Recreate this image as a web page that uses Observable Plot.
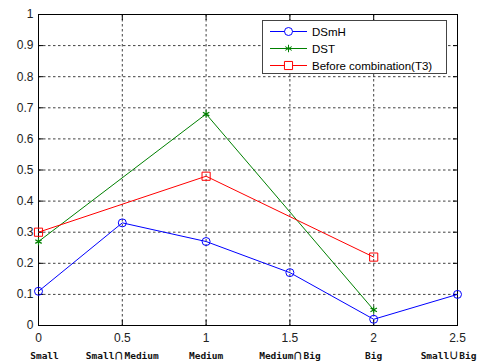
<!DOCTYPE html>
<html>
<head>
<meta charset="utf-8">
<script src="https://cdn.jsdelivr.net/npm/d3@7"></script>
<script src="https://cdn.jsdelivr.net/npm/@observablehq/plot@0.6"></script>
<style>
  @font-face {
    font-family: "CapCup";
    src: local("Noto Sans CJK SC"), local("Noto Sans CJK SC Regular"), local("NotoSansCJKsc-Regular"), local("DejaVu Sans"), local("DejaVuSans");
    unicode-range: U+2229-222A;
  }
  html, body { margin: 0; padding: 0; background: #fff; }
  #wrap { position: relative; width: 481px; height: 363px; }
  #legend { position: absolute; left: 262px; top: 20px; width: 183px; height: 52px;
    border: 1px solid #444; background: #fff; font: 11.5px "Liberation Sans", Arial, sans-serif; color: #000; }
  #legend .row { position: absolute; left: 0; height: 17px; display: flex; align-items: center; }
  #legend svg { display: block; }
</style>
</head>
<body>
<div id="wrap"></div>
<script>
const xTicks = [0, 0.5, 1, 1.5, 2, 2.5];
const xCategories = ["Small", "Small∩Medium", "Medium", "Medium∩Big", "Big", "Small∪Big"];
const yTicks = [0, 0.1, 0.2, 0.3, 0.4, 0.5, 0.6, 0.7, 0.8, 0.9, 1];

const dsmhX = [0, 0.5, 1, 1.5, 2, 2.5];
const dsmhY = [0.11, 0.33, 0.27, 0.17, 0.02, 0.10];
const dstX = [0, 1, 2];
const dstY = [0.27, 0.68, 0.05];
const beforeX = [0, 1, 2];
const beforeY = [0.30, 0.48, 0.22];

const seriesNames = ["DSmH", "DST", "Before combination(T3)"];
const seriesColors = ["#0000ff", "#008000", "#ff0000"];

const dsmh = dsmhX.map((x, i) => ({x, y: dsmhY[i]}));
const dst = dstX.map((x, i) => ({x, y: dstY[i]}));
const before = beforeX.map((x, i) => ({x, y: beforeY[i]}));
const cats = xTicks.map((x, i) => ({x, label: xCategories[i]}));

const font = '"Liberation Sans", Arial, sans-serif';
const catFont = '"CapCup", "DejaVu Sans Mono", "Liberation Mono", monospace';

const chart = Plot.plot({
  width: 481,
  height: 363,
  marginLeft: 38,
  marginRight: 24,
  marginTop: 14,
  marginBottom: 38,
  style: {fontFamily: font, fontSize: "11px", background: "#fff", overflow: "visible"},
  x: {domain: [0, 2.5]},
  y: {domain: [0, 1]},
  marks: [
    Plot.gridX(xTicks.slice(1, -1), {stroke: "#000", strokeOpacity: 0.75, strokeDasharray: "2.5,2.5"}),
    Plot.gridY(yTicks.slice(1, -1), {stroke: "#000", strokeOpacity: 0.75, strokeDasharray: "2.5,2.5"}),
    Plot.axisX(xTicks, {tickSize: 0, tickPadding: 8, label: null, fill: "#222", fontSize: 12, tickFormat: d => String(d)}),
    Plot.axisX(xTicks, {tickSize: -5, text: null, label: null}),
    Plot.axisX(xTicks, {anchor: "top", tickSize: -5, text: null, label: null}),
    Plot.axisY(yTicks, {tickSize: 0, tickPadding: 5, label: null, fill: "#222", fontSize: 12, tickFormat: d => String(d)}),
    Plot.axisY(yTicks, {tickSize: -5, text: null, label: null}),
    Plot.axisY(yTicks, {anchor: "right", tickSize: -5, text: null, label: null}),
    Plot.text(cats.slice(1, -1), {x: "x", y: 0, text: "label", dy: 30,
      fontFamily: catFont, fontWeight: "bold", fontSize: 9.5, fill: "#111"}),
    Plot.text(cats.slice(0, 1), {x: "x", y: 0, text: "label", dy: 30, dx: 6,
      fontFamily: catFont, fontWeight: "bold", fontSize: 9.5, fill: "#111"}),
    Plot.text(cats.slice(-1), {x: "x", y: 0, text: "label", dy: 30, dx: -9,
      fontFamily: catFont, fontWeight: "bold", fontSize: 9.5, fill: "#111"}),
    Plot.frame({stroke: "#000"}),
    Plot.line(dsmh, {x: "x", y: "y", stroke: seriesColors[0], strokeWidth: 1}),
    Plot.line(dst, {x: "x", y: "y", stroke: seriesColors[1], strokeWidth: 1}),
    Plot.line(before, {x: "x", y: "y", stroke: seriesColors[2], strokeWidth: 1}),
    Plot.dot(dsmh, {x: "x", y: "y", symbol: "circle", r: 4, stroke: seriesColors[0], fill: "none", strokeWidth: 1}),
    Plot.dot(dst, {x: "x", y: "y", symbol: "asterisk", r: 3.5, stroke: seriesColors[1], strokeWidth: 1.2}),
    Plot.dot(before, {x: "x", y: "y", symbol: "square", r: 4.6, stroke: seriesColors[2], fill: "none", strokeWidth: 1})
  ]
});

const wrap = document.getElementById("wrap");
wrap.appendChild(chart);

// legend inside the plot area
const legend = document.createElement("div");
legend.id = "legend";
const symbols = [d3.symbolCircle, d3.symbolAsterisk, d3.symbolSquare];
const sizes = [Math.PI * 16, Math.PI * 12.25, Math.PI * 21];
seriesNames.forEach((name, i) => {
  const row = document.createElement("div");
  row.className = "row";
  row.style.top = (2 + i * 17) + "px";
  const svg = d3.create("svg").attr("width", 49).attr("height", 17);
  svg.append("line").attr("x1", 7).attr("x2", 44).attr("y1", 8.5).attr("y2", 8.5)
    .attr("stroke", seriesColors[i]).attr("stroke-width", 1);
  svg.append("path").attr("d", d3.symbol(symbols[i], sizes[i])())
    .attr("transform", "translate(25.5,8.5)")
    .attr("fill", i === 1 ? "none" : "#fff").attr("stroke", seriesColors[i]).attr("stroke-width", 1);
  row.appendChild(svg.node());
  const span = document.createElement("span");
  span.textContent = name;
  row.appendChild(span);
  legend.appendChild(row);
});
wrap.appendChild(legend);
</script>
</body>
</html>
